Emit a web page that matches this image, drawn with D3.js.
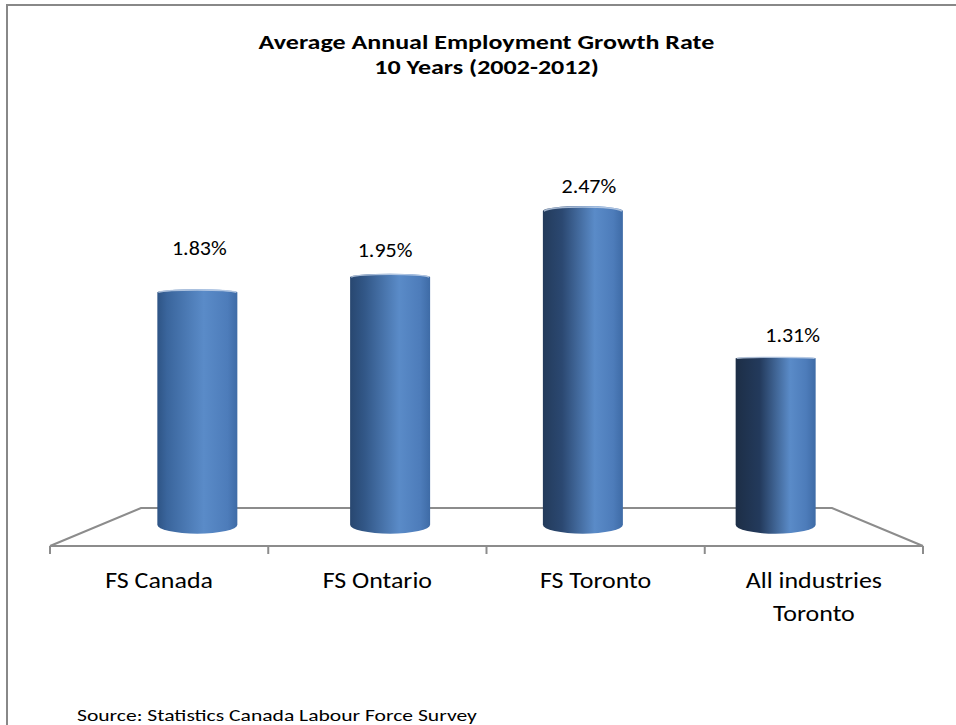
<!DOCTYPE html>
<html>
<head>
<meta charset="utf-8">
<script src="https://cdn.jsdelivr.net/npm/d3@7/dist/d3.min.js"></script>
<style>
  html, body { margin: 0; padding: 0; background: #ffffff; }
  svg { display: block; }
  text { font-family: Carlito, Calibri, Lato, "Open Sans", sans-serif; fill: #000; }
</style>
</head>
<body>
<svg id="chart" width="956" height="725"></svg>
<script>
// Chart content
const titleLines = ["Average Annual Employment Growth Rate", "10 Years (2002-2012)"];
const categories = ["FS Canada", "FS Ontario", "FS Toronto", "All industries\nToronto"];
const growthRates = [1.83, 1.95, 2.47, 1.31];
const sourceNote = "Source: Statistics Canada Labour Force Survey";

const svg = d3.select("#chart");

// Widen a text horizontally around its anchor x
const stretch = (sel, ax, sx) =>
  sel.attr("transform", `translate(${ax},0) scale(${sx},1) translate(${-ax},0)`);

// Outer chart frame (runs past the right and bottom of the view)
svg.append("rect")
  .attr("x", 7).attr("y", 5)
  .attr("width", 1200).attr("height", 1200)
  .attr("fill", "none").attr("stroke", "#888888").attr("stroke-width", 2);

// Title
const titleX = 486.5;
const title = svg.append("text")
  .attr("text-anchor", "middle")
  .style("font-weight", "bold")
  .style("font-size", "21px");
titleLines.forEach((t, i) => {
  title.append("tspan").attr("x", titleX).attr("y", 49 + i * 25.5).text(t);
});
stretch(title, titleX, 1.24);

// Floor in perspective: front edge, back edge
const frontY = 546, backY = 508;
const frontL = 50, frontR = 923;
const centerX = (frontL + frontR) / 2;
const backRatio = (833 - 142) / (frontR - frontL);

const x = d3.scaleBand().domain(categories).range([frontL, frontR]).padding(0);

// depth t in [0,1]: 0 = front edge, 1 = back edge
const depthY = t => frontY - t * (frontY - backY);
const depthX = (px, t) => centerX + (px - centerX) * (1 - t * (1 - backRatio));

svg.append("path")
  .attr("d", d3.line()([
    [frontL, frontY],
    [depthX(frontL, 1), backY],
    [depthX(frontR, 1), backY],
    [frontR, frontY]
  ]))
  .attr("fill", "none").attr("stroke", "#8c8c8c").attr("stroke-width", 2);

// Category axis along the front edge
const axisG = svg.append("g").attr("transform", `translate(0,${frontY})`);
axisG.append("path")
  .attr("d", `M${frontL},0H${frontR}`)
  .attr("stroke", "#8c8c8c").attr("stroke-width", 2).attr("fill", "none");
const tickXs = categories.map(c => x(c)).concat([x.range()[1]]);
axisG.selectAll("line.tick").data(tickXs).enter().append("line")
  .attr("class", "tick")
  .attr("x1", d => d).attr("x2", d => d)
  .attr("y1", 0).attr("y2", 8)
  .attr("stroke", "#8c8c8c").attr("stroke-width", 2);

categories.forEach(c => {
  const cx = x(c) + x.bandwidth() / 2;
  const t = svg.append("text")
    .attr("text-anchor", "middle")
    .style("font-size", "22px");
  c.split("\n").forEach((line, i) => {
    t.append("tspan").attr("x", cx).attr("y", 588 + i * 33).text(line);
  });
  stretch(t, cx, 1.18);
});

// Cylinders stand midway into the floor
const barDepth = 0.56;
const baseY = depthY(barDepth);
const y = d3.scaleLinear().domain([0, 3]).range([baseY, baseY - 381]);
const barHalf = 40;
const ryBottom = 9;

const defs = svg.append("defs");
const darkLeft = d3.interpolate("#2e5485", "#1d2e46");
const darkMid = d3.interpolate("#3a659c", "#233a5c");

growthRates.forEach((v, i) => {
  const k = i / (growthRates.length - 1);
  const g = defs.append("linearGradient")
    .attr("id", "cyl" + i)
    .attr("x1", "0%").attr("x2", "100%").attr("y1", "0%").attr("y2", "0%");
  g.append("stop").attr("offset", "0%").attr("stop-color", darkLeft(k));
  g.append("stop").attr("offset", (12 + 18 * k) + "%").attr("stop-color", darkMid(k));
  g.append("stop").attr("offset", (58 + 10 * k) + "%").attr("stop-color", "#5a8bc8");
  g.append("stop").attr("offset", "88%").attr("stop-color", "#4d7cba");
  g.append("stop").attr("offset", "100%").attr("stop-color", "#3e6ba6");
});

// Value label nudges (dx, gap above the cylinder top)
const labelNudge = [[2, 37], [-5, 20], [6, 18], [17, 16]];

categories.forEach((c, i) => {
  const v = growthRates[i];
  const cx = depthX(x(c) + x.bandwidth() / 2, barDepth);
  const topY = y(v);
  const h = baseY - topY;
  const ryTop = Math.max(1.2, 1 + (h - 150) * 0.025);
  const l = cx - barHalf, r = cx + barHalf;

  svg.append("path")
    .attr("d", `M${l},${topY} A${barHalf},${ryTop} 0 0 1 ${r},${topY} L${r},${baseY} A${barHalf},${ryBottom} 0 0 1 ${l},${baseY} Z`)
    .attr("fill", `url(#cyl${i})`);

  // soft rim highlight on the top edge
  svg.append("path")
    .attr("d", `M${l + 1},${topY} A${barHalf},${ryTop} 0 0 1 ${r - 1},${topY}`)
    .attr("fill", "none")
    .attr("stroke", "#c6d5ea")
    .attr("stroke-width", 1.4)
    .attr("opacity", 0.8);

  const lx = cx + labelNudge[i][0];
  const lbl = svg.append("text")
    .attr("x", lx)
    .attr("y", topY - labelNudge[i][1])
    .attr("text-anchor", "middle")
    .style("font-size", "19.5px")
    .text(v.toFixed(2) + "%");
  stretch(lbl, lx, 1.13);
});

// Source note
const src = svg.append("text")
  .attr("x", 77).attr("y", 721)
  .style("font-size", "17px")
  .text(sourceNote);
stretch(src, 77, 1.27);
</script>
</body>
</html>
